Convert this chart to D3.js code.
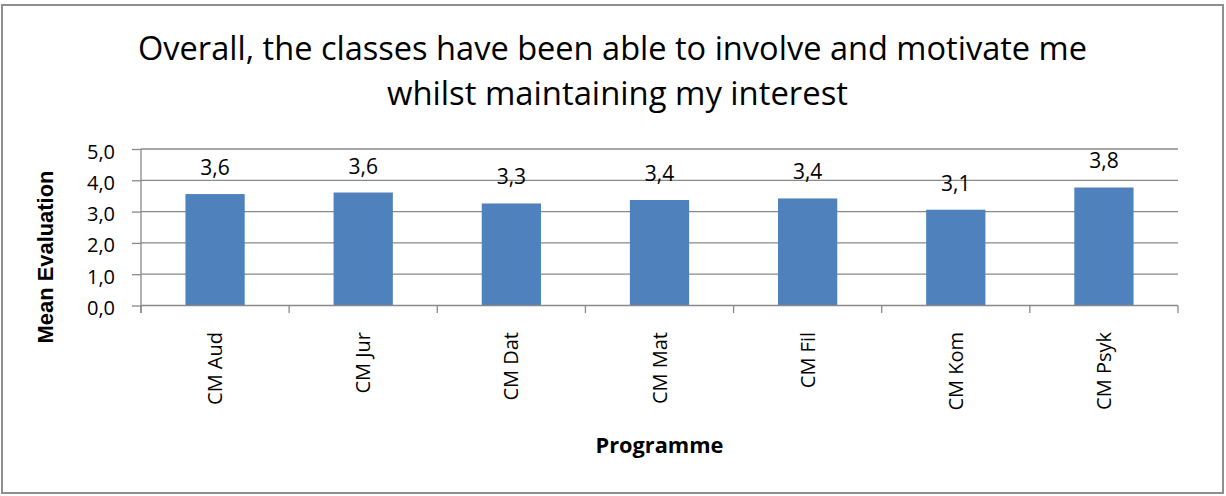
<!DOCTYPE html>
<html>
<head>
<meta charset="utf-8">
<script src="https://cdn.jsdelivr.net/npm/d3@7"></script>
<style>
  html, body { margin: 0; padding: 0; background: #fff; }
  svg { display: block; }
</style>
</head>
<body>
<svg id="chart" width="1226" height="496"></svg>
<script>
// Programme names and mean evaluation scores
const categories = ["CM Aud", "CM Jur", "CM Dat", "CM Mat", "CM Fil", "CM Kom", "CM Psyk"];
const meanValues = [3.56, 3.61, 3.26, 3.37, 3.42, 3.06, 3.77];
const yTicks = [0, 1, 2, 3, 4, 5];
const titleLines = [
  "Overall, the classes have been able to involve and motivate me",
  "whilst maintaining my interest"
];
const xTitle = "Programme";
const yTitle = "Mean Evaluation";

const W = 1226, H = 496;
const plot = { left: 141, right: 1178, top: 149, bottom: 305.5 };
const barColor = "#4f81bd";
const gridColor = "#898989";
const bodyFont = "'Open Sans', 'Noto Sans', sans-serif";

const svg = d3.select("#chart");

// Outer chart frame
svg.append("rect")
  .attr("x", 2).attr("y", 5)
  .attr("width", W - 5).attr("height", H - 8)
  .attr("fill", "#fff")
  .attr("stroke", "#8f8f8f")
  .attr("stroke-width", 2);

const x = d3.scaleBand()
  .domain(categories)
  .range([plot.left, plot.right])
  .paddingInner(0.6)
  .paddingOuter(0.3);

const y = d3.scaleLinear()
  .domain([0, 5])
  .range([plot.bottom, plot.top]);

// Scale a text element's font size so it spans the given width
function fitWidth(sel, target) {
  const node = sel.node();
  const fs = parseFloat(sel.attr("font-size"));
  const w = node.getComputedTextLength();
  if (w > 0) sel.attr("font-size", (fs * target / w).toFixed(2));
  return sel;
}

// Title (two centred lines, slightly condensed)
const titleSize = 32;
const titleCfg = [{ x: 612.5, y: 60, w: 949 }, { x: 617.5, y: 105, w: 461 }];
titleLines.forEach((line, i) => {
  svg.append("text")
    .attr("x", titleCfg[i].x).attr("y", titleCfg[i].y)
    .attr("text-anchor", "middle")
    .attr("font-family", bodyFont)
    .attr("font-size", titleSize)
    .attr("textLength", titleCfg[i].w)
    .attr("lengthAdjust", "spacingAndGlyphs")
    .attr("fill", "#000")
    .text(line);
});

// Horizontal gridlines
svg.append("g")
  .selectAll("line")
  .data(yTicks.filter(d => d > 0))
  .join("line")
  .attr("x1", plot.left).attr("x2", plot.right)
  .attr("y1", d => y(d)).attr("y2", d => y(d))
  .attr("stroke", gridColor)
  .attr("stroke-width", 1.3);

// Y axis
const yAxis = svg.append("g")
  .attr("transform", `translate(${plot.left},0)`)
  .call(d3.axisLeft(y)
    .tickValues(yTicks)
    .tickSize(9)
    .tickPadding(17)
    .tickFormat(d => d3.format(".1f")(d).replace(".", ",")));
yAxis.select(".domain").attr("stroke", gridColor).attr("stroke-width", 1.3)
  .attr("d", `M0,${plot.top}V${plot.bottom + 7.5}`);
yAxis.selectAll(".tick line").attr("stroke", gridColor).attr("stroke-width", 1.3);
yAxis.selectAll(".tick text")
  .attr("font-family", bodyFont)
  .attr("font-size", 20)
  .attr("fill", "#000")
  .attr("dy", "0.45em");

// Bars
svg.append("g")
  .selectAll("rect")
  .data(categories.map((c, i) => ({ c, v: meanValues[i] })))
  .join("rect")
  .attr("x", d => x(d.c))
  .attr("y", d => y(d.v))
  .attr("width", x.bandwidth())
  .attr("height", d => y(0) - y(d.v))
  .attr("fill", barColor);

// X axis line and category boundary ticks
const step = (plot.right - plot.left) / categories.length;
svg.append("line")
  .attr("x1", plot.left).attr("x2", plot.right)
  .attr("y1", plot.bottom).attr("y2", plot.bottom)
  .attr("stroke", gridColor).attr("stroke-width", 1.3);
svg.append("g")
  .selectAll("line")
  .data(d3.range(categories.length + 1))
  .join("line")
  .attr("x1", i => plot.left + i * step).attr("x2", i => plot.left + i * step)
  .attr("y1", plot.bottom).attr("y2", plot.bottom + 7.5)
  .attr("stroke", gridColor).attr("stroke-width", 1.3);

// Rotated category labels
svg.append("g")
  .selectAll("text")
  .data(categories)
  .join("text")
  .attr("transform", d => `translate(${x(d) + x.bandwidth() / 2},332) rotate(-90)`)
  .attr("text-anchor", "end")
  .attr("dy", "0.35em")
  .attr("font-family", bodyFont)
  .attr("font-size", 20)
  .attr("fill", "#000")
  .text(d => d);

// Value labels above bars
svg.append("g")
  .selectAll("text")
  .data(categories.map((c, i) => ({ c, v: meanValues[i] })))
  .join("text")
  .attr("x", d => x(d.c) + x.bandwidth() / 2)
  .attr("y", d => y(d.v) - 19)
  .attr("text-anchor", "middle")
  .attr("font-family", bodyFont)
  .attr("font-size", 21)
  .attr("fill", "#000")
  .text(d => d3.format(".1f")(d.v).replace(".", ","));

// Axis titles
const xt = svg.append("text")
  .attr("x", (plot.left + plot.right) / 2).attr("y", 453)
  .attr("text-anchor", "middle")
  .attr("font-family", bodyFont)
  .attr("font-weight", "bold")
  .attr("font-size", 21)
  .attr("fill", "#000")
  .text(xTitle);
fitWidth(xt, 128);

const yt = svg.append("text")
  .attr("transform", "translate(53,257) rotate(-90)")
  .attr("text-anchor", "middle")
  .attr("font-family", "'Liberation Sans', Arial, sans-serif")
  .attr("font-weight", "bold")
  .attr("font-size", 21)
  .attr("fill", "#000")
  .text(yTitle);
fitWidth(yt, 173);
</script>
</body>
</html>
